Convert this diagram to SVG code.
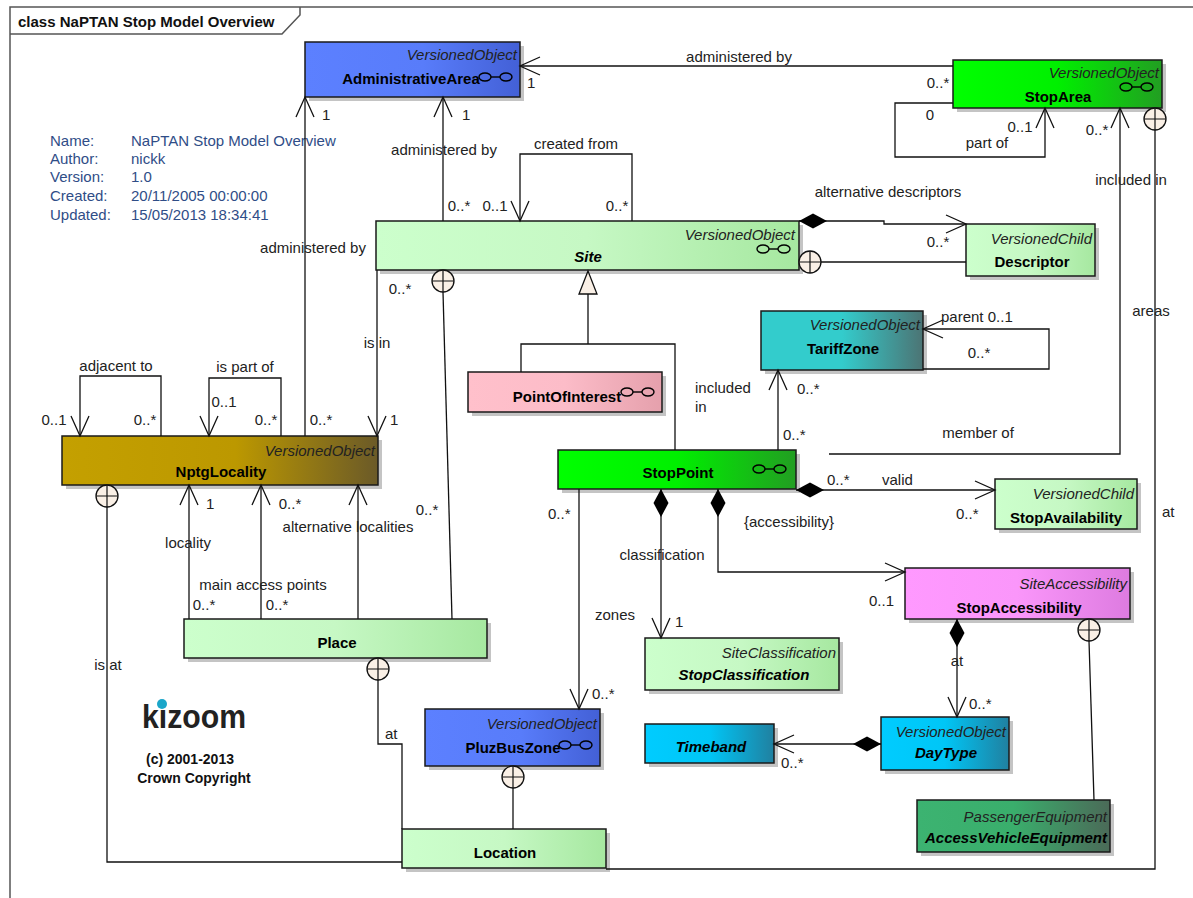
<svg xmlns="http://www.w3.org/2000/svg" width="1193" height="898" viewBox="0 0 1193 898">
<style>
text{font-family:"Liberation Sans",Arial,sans-serif;font-size:15px;fill:#222}
.st{font-style:italic;text-anchor:end}
.nm{font-weight:bold;fill:#000;text-anchor:middle}
.it{font-style:italic}
.m{text-anchor:middle}
.box{stroke:#1a1a1a;stroke-width:1.5}
.sh{fill:#c4c4c4}
.ln{fill:none;stroke:#111;stroke-width:1.3}
.ic{fill:none;stroke:#000;stroke-width:1.4}
.info{fill:#2F4D87}
.fr{fill:none;stroke:#555;stroke-width:1.5}
</style>
<defs>
<linearGradient id="gBlue" x1="0" x2="1" y1="0" y2="0"><stop offset="0" stop-color="#5C80FF"/><stop offset="0.55" stop-color="#587CFA"/><stop offset="1" stop-color="#4360D6"/></linearGradient>
<linearGradient id="gGreen" x1="0" x2="1" y1="0" y2="0"><stop offset="0" stop-color="#00FF00"/><stop offset="0.5" stop-color="#00F000"/><stop offset="1" stop-color="#229E22"/></linearGradient>
<linearGradient id="gLight" x1="0" x2="1" y1="0" y2="0"><stop offset="0" stop-color="#CCFFCC"/><stop offset="0.5" stop-color="#C6F8C4"/><stop offset="1" stop-color="#A6E8A0"/></linearGradient>
<linearGradient id="gGold" x1="0" x2="1" y1="0" y2="0"><stop offset="0" stop-color="#C4A000"/><stop offset="0.55" stop-color="#BC9800"/><stop offset="1" stop-color="#6B5A28"/></linearGradient>
<linearGradient id="gTeal" x1="0" x2="1" y1="0" y2="0"><stop offset="0" stop-color="#33CCCC"/><stop offset="0.5" stop-color="#33CCCC"/><stop offset="1" stop-color="#4C7474"/></linearGradient>
<linearGradient id="gPink" x1="0" x2="1" y1="0" y2="0"><stop offset="0" stop-color="#FFC0CB"/><stop offset="0.5" stop-color="#FCBCC8"/><stop offset="1" stop-color="#E5A0AC"/></linearGradient>
<linearGradient id="gMag" x1="0" x2="1" y1="0" y2="0"><stop offset="0" stop-color="#FF99FF"/><stop offset="0.5" stop-color="#FA96FA"/><stop offset="1" stop-color="#DD7BE0"/></linearGradient>
<linearGradient id="gCyan" x1="0" x2="1" y1="0" y2="0"><stop offset="0" stop-color="#00CCFF"/><stop offset="0.5" stop-color="#00C6F6"/><stop offset="1" stop-color="#2080A0"/></linearGradient>
<linearGradient id="gDark" x1="0" x2="1" y1="0" y2="0"><stop offset="0" stop-color="#3CB371"/><stop offset="0.5" stop-color="#3AAE6C"/><stop offset="1" stop-color="#4B6A58"/></linearGradient>
<marker id="arr" markerUnits="userSpaceOnUse" markerWidth="30" markerHeight="30" viewBox="-25 -15 30 30" refX="0" refY="0" orient="auto"><path d="M-20,-9 L0,0 L-20,9" fill="none" stroke="#111" stroke-width="1.3"/></marker>
<marker id="dia" markerUnits="userSpaceOnUse" markerWidth="32" markerHeight="20" viewBox="-2 -10 32 20" refX="0" refY="0" orient="auto"><path d="M0,0 L14,-7.5 L28,0 L14,7.5 Z" fill="#000"/></marker>
<g id="nest"><circle r="11" fill="#FAF0E6" stroke="#111" stroke-width="1.3"/><path d="M-11,0 H11 M0,-11 V11" stroke="#111" stroke-width="1.2"/></g>
<g id="ico" class="ic"><ellipse cx="6" cy="0" rx="6" ry="4"/><line x1="12" y1="0" x2="21" y2="0"/><ellipse cx="27" cy="0" rx="6" ry="4"/></g>
</defs>
<rect width="1193" height="898" fill="#fff"/>
<g id="frame">
<path class="fr" d="M10,898 V7 H1193"/>
<path class="fr" d="M10,34 H282 L300,15 V7"/>
<text x="18" y="27" style="font-weight:bold;fill:#111">class NaPTAN Stop Model Overview</text>
</g>
<g id="info" class="info">
<text class="info" x="50" y="146">Name:</text><text class="info" x="131" y="146">NaPTAN Stop Model Overview</text>
<text class="info" x="50" y="164">Author:</text><text class="info" x="131" y="164">nickk</text>
<text class="info" x="50" y="182">Version:</text><text class="info" x="131" y="182">1.0</text>
<text class="info" x="50" y="201">Created:</text><text class="info" x="131" y="201">20/11/2005 00:00:00</text>
<text class="info" x="50" y="220">Updated:</text><text class="info" x="131" y="220">15/05/2013 18:34:41</text>
</g>
<g id="logo">
<text x="142" y="728" textLength="104" lengthAdjust="spacingAndGlyphs" style="font-size:33px;font-weight:bold;fill:#222">kizoom</text>
<circle cx="162" cy="704" r="5" fill="#1BA6C9"/>
<text class="m" x="190" y="764" style="font-weight:bold;font-size:14px;fill:#111">(c) 2001-2013</text>
<text class="m" x="194" y="783" style="font-weight:bold;font-size:14px;fill:#111">Crown Copyright</text>
</g>

<g id="AdministrativeArea">
<rect class="sh" x="309" y="46" width="215" height="55"/>
<rect class="box" x="305" y="42" width="215" height="55" fill="url(#gBlue)"/>
<text class="st" x="517" y="60">VersionedObject</text>
<text class="nm" x="411" y="84">AdministrativeArea</text>
<use href="#ico" x="479" y="77"/>
</g>
<g id="StopArea">
<rect class="sh" x="957" y="64" width="209" height="48"/>
<rect class="box" x="953" y="60" width="209" height="48" fill="url(#gGreen)"/>
<text class="st" x="1159" y="78">VersionedObject</text>
<text class="nm" x="1058" y="102">StopArea</text>
<use href="#ico" x="1120" y="87"/>
</g>
<g id="Site">
<rect class="sh" x="380" y="225" width="423" height="49"/>
<rect class="box" x="376" y="221" width="423" height="49" fill="url(#gLight)"/>
<text class="st" x="795" y="240">VersionedObject</text>
<text class="nm it" x="588" y="262">Site</text>
<use href="#ico" x="757" y="249"/>
</g>
<g id="Descriptor">
<rect class="sh" x="970" y="228" width="129" height="52"/>
<rect class="box" x="966" y="224" width="129" height="52" fill="url(#gLight)"/>
<text class="st" x="1092" y="244">VersionedChild</text>
<text class="nm" x="1032" y="267">Descriptor</text>
</g>
<g id="TariffZone">
<rect class="sh" x="765" y="315" width="162" height="59"/>
<rect class="box" x="761" y="311" width="162" height="59" fill="url(#gTeal)"/>
<text class="st" x="920" y="330">VersionedObject</text>
<text class="nm" x="843" y="354">TariffZone</text>
</g>
<g id="PointOfInterest">
<rect class="sh" x="472" y="376" width="194" height="40"/>
<rect class="box" x="468" y="372" width="194" height="40" fill="url(#gPink)"/>
<text class="nm" x="567" y="402">PointOfInterest</text>
<use href="#ico" x="621" y="392"/>
</g>
<g id="NptgLocality">
<rect class="sh" x="66" y="440" width="316" height="49"/>
<rect class="box" x="62" y="436" width="316" height="49" fill="url(#gGold)"/>
<text class="st" x="375" y="456">VersionedObject</text>
<text class="nm" x="221" y="477">NptgLocality</text>
</g>
<g id="StopPoint">
<rect class="sh" x="562" y="454" width="238" height="39"/>
<rect class="box" x="558" y="450" width="238" height="39" fill="url(#gGreen)"/>
<text class="nm" x="678" y="478">StopPoint</text>
<use href="#ico" x="753" y="469"/>
</g>
<g id="StopAvailability">
<rect class="sh" x="999" y="483" width="142" height="50"/>
<rect class="box" x="995" y="479" width="142" height="50" fill="url(#gLight)"/>
<text class="st" x="1134" y="499">VersionedChild</text>
<text class="nm" x="1066" y="523">StopAvailability</text>
</g>
<g id="StopAccessibility">
<rect class="sh" x="909" y="572" width="225" height="51"/>
<rect class="box" x="905" y="568" width="225" height="51" fill="url(#gMag)"/>
<text class="st" x="1127" y="589">SiteAccessibility</text>
<text class="nm" x="1019" y="613">StopAccessibility</text>
</g>
<g id="Place">
<rect class="sh" x="188" y="623" width="303" height="39"/>
<rect class="box" x="184" y="619" width="303" height="39" fill="url(#gLight)"/>
<text class="nm" x="337" y="648">Place</text>
</g>
<g id="StopClassification">
<rect class="sh" x="649" y="642" width="194" height="52"/>
<rect class="box" x="645" y="638" width="194" height="52" fill="url(#gLight)"/>
<text class="st" x="836" y="658">SiteClassification</text>
<text class="nm it" x="744" y="680">StopClassification</text>
</g>
<g id="PluzBusZone">
<rect class="sh" x="429" y="713" width="175" height="57"/>
<rect class="box" x="425" y="709" width="175" height="57" fill="url(#gBlue)"/>
<text class="st" x="597" y="729">VersionedObject</text>
<text class="nm" x="513" y="753">PluzBusZone</text>
<use href="#ico" x="559" y="745"/>
</g>
<g id="Timeband">
<rect class="sh" x="649" y="728" width="129" height="39"/>
<rect class="box" x="645" y="724" width="129" height="39" fill="url(#gCyan)"/>
<text class="nm it" x="711" y="752">Timeband</text>
</g>
<g id="DayType">
<rect class="sh" x="885" y="721" width="128" height="53"/>
<rect class="box" x="881" y="717" width="128" height="53" fill="url(#gCyan)"/>
<text class="st" x="1006" y="737">VersionedObject</text>
<text class="nm it" x="946" y="758">DayType</text>
</g>
<g id="AccessVehicleEquipment">
<rect class="sh" x="921" y="804" width="193" height="52"/>
<rect class="box" x="917" y="800" width="193" height="52" fill="url(#gDark)"/>
<text class="st" x="1107" y="822">PassengerEquipment</text>
<text class="nm it" x="1016" y="843">AccessVehicleEquipment</text>
</g>
<g id="Location">
<rect class="sh" x="406" y="833" width="204" height="39"/>
<rect class="box" x="402" y="829" width="204" height="39" fill="url(#gLight)"/>
<text class="nm" x="505" y="858">Location</text>
</g>

<g id="connectors">
<path class="ln" d="M953,66 H520" marker-end="url(#arr)"/>
<path class="ln" d="M953,103 H895 V157 H1045 V108" marker-end="url(#arr)"/>
<path class="ln" d="M829,454 H1120 V108" marker-end="url(#arr)"/>
<path class="ln" d="M1155,130 V869 H606"/>
<path class="ln" d="M443,221 V97" marker-end="url(#arr)"/>
<path class="ln" d="M632,221 V154 H520 V221" marker-end="url(#arr)"/>
<path class="ln" d="M305,436 V97" marker-end="url(#arr)"/>
<path class="ln" d="M377,270 V436" marker-end="url(#arr)"/>
<path class="ln" d="M443,292 L452,619"/>
<path class="ln" d="M588,294 V344 M521,372 V344 H675 V450"/>
<polygon points="588,271 579,294 597,294" fill="#FAF0E6" stroke="#111" stroke-width="1.3"/>
<path class="ln" d="M778,450 V370" marker-end="url(#arr)"/>
<path class="ln" d="M923,369 H1049 V329 H923" marker-end="url(#arr)"/>
<path class="ln" d="M821,262 H966"/>
<path class="ln" d="M799,221 H884 V224 H966" marker-start="url(#dia)" marker-end="url(#arr)"/>
<path class="ln" d="M161,436 V376 H80 V436" marker-end="url(#arr)"/>
<path class="ln" d="M281,436 V378 H209 V436" marker-end="url(#arr)"/>
<path class="ln" d="M189,619 V485" marker-end="url(#arr)"/>
<path class="ln" d="M261,619 V485" marker-end="url(#arr)"/>
<path class="ln" d="M358,619 V485" marker-end="url(#arr)"/>
<path class="ln" d="M378,680 V744 H402 V829"/>
<path class="ln" d="M513,788 V829"/>
<path class="ln" d="M107,507 V862 H402"/>
<path class="ln" d="M796,490 H995" marker-start="url(#dia)" marker-end="url(#arr)"/>
<path class="ln" d="M718,489 V572 H905" marker-start="url(#dia)" marker-end="url(#arr)"/>
<path class="ln" d="M661,489 V638" marker-start="url(#dia)" marker-end="url(#arr)"/>
<path class="ln" d="M579,489 V709" marker-end="url(#arr)"/>
<path class="ln" d="M957,619 V717" marker-start="url(#dia)" marker-end="url(#arr)"/>
<path class="ln" d="M881,744 H774" marker-start="url(#dia)" marker-end="url(#arr)"/>
<path class="ln" d="M1089,641 L1094,800"/>
<use href="#nest" x="1155" y="119"/>
<use href="#nest" x="443" y="281"/>
<use href="#nest" x="810" y="262"/>
<use href="#nest" x="378" y="669"/>
<use href="#nest" x="513" y="777"/>
<use href="#nest" x="107" y="496"/>
<use href="#nest" x="1089" y="630"/>
</g>

<g id="labels">
<text class="m" x="739" y="62">administered by</text>
<text x="527" y="88">1</text>
<text class="m" x="938" y="88">0..*</text>
<text class="m" x="930" y="120">0</text>
<text class="m" x="1020" y="132">0..1</text>
<text class="m" x="987" y="148">part of</text>
<text class="m" x="1097" y="135">0..*</text>
<text class="m" x="1131" y="185">included in</text>
<text class="m" x="1151" y="316">areas</text>
<text x="1162" y="517">at</text>
<text class="m" x="444" y="155">administered by</text>
<text x="462" y="120">1</text>
<text x="322" y="120">1</text>
<text class="m" x="313" y="253">administered by</text>
<text class="m" x="576" y="149">created from</text>
<text class="m" x="459" y="211">0..*</text>
<text class="m" x="495" y="211">0..1</text>
<text class="m" x="617" y="211">0..*</text>
<text class="m" x="888" y="197">alternative descriptors</text>
<text class="m" x="938" y="247">0..*</text>
<text class="m" x="400" y="294">0..*</text>
<text class="m" x="377" y="348">is in</text>
<text x="390" y="425">1</text>
<text class="m" x="427" y="515">0..*</text>
<text class="m" x="116" y="371">adjacent to</text>
<text class="m" x="54" y="425">0..1</text>
<text class="m" x="145" y="425">0..*</text>
<text class="m" x="245" y="372">is part of</text>
<text class="m" x="224" y="407">0..1</text>
<text class="m" x="266" y="425">0..*</text>
<text class="m" x="321" y="425">0..*</text>
<text x="206" y="509">1</text>
<text class="m" x="290" y="509">0..*</text>
<text class="m" x="348" y="532">alternative localities</text>
<text class="m" x="188" y="548">locality</text>
<text class="m" x="263" y="590">main access points</text>
<text class="m" x="204" y="610">0..*</text>
<text class="m" x="277" y="610">0..*</text>
<text class="m" x="108" y="670">is at</text>
<text x="385" y="739">at</text>
<text x="695" y="393">included</text>
<text x="695" y="412">in</text>
<text x="797" y="394">0..*</text>
<text x="783" y="440">0..*</text>
<text x="941" y="322">parent 0..1</text>
<text class="m" x="979" y="358">0..*</text>
<text class="m" x="978" y="438">member of</text>
<text x="827" y="485">0..*</text>
<text x="882" y="485">valid</text>
<text x="956" y="519">0..*</text>
<text class="m" x="789" y="527">{accessibility}</text>
<text x="869" y="606">0..1</text>
<text x="548" y="519">0..*</text>
<text class="m" x="662" y="560">classification</text>
<text class="m" x="615" y="620">zones</text>
<text x="675" y="627">1</text>
<text x="592" y="699">0..*</text>
<text class="m" x="957" y="666">at</text>
<text x="969" y="709">0..*</text>
<text x="781" y="768">0..*</text>
</g>
</svg>
